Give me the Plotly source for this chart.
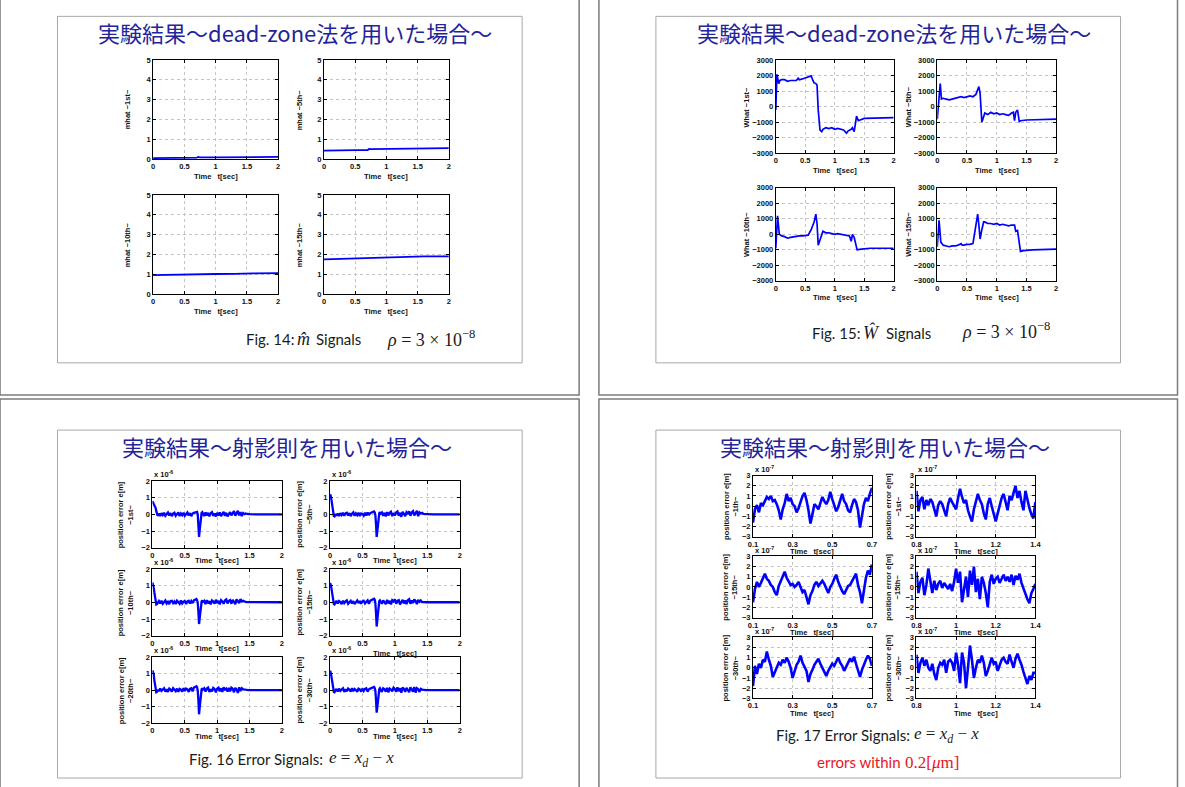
import plotly.graph_objects as go

# ---------------- DATA ----------------
# Slide 1 : mhat signals (dead-zone)
M_T = [0, 0.1, 0.3, 0.5, 0.7, 0.72, 0.75, 1.0, 1.3, 1.4, 1.6, 2.0]
M_1ST = [0.04, 0.04, 0.05, 0.05, 0.06, 0.10, 0.08, 0.08, 0.09, 0.10, 0.10, 0.10]
M_5TH = [0.42, 0.43, 0.44, 0.44, 0.45, 0.50, 0.49, 0.50, 0.52, 0.53, 0.54, 0.55]
M_10TH = [0.95, 0.96, 0.97, 0.97, 0.98, 1.00, 1.00, 1.01, 1.02, 1.03, 1.04, 1.05]
M_15TH = [1.75, 1.76, 1.77, 1.78, 1.80, 1.83, 1.84, 1.85, 1.86, 1.90, 1.90, 1.90]

# Slide 2 : What signals (dead-zone)
W1_T = [0, 0.01, 0.02, 0.03, 0.05, 0.07, 0.1, 0.15, 0.2, 0.25, 0.3, 0.35, 0.38, 0.4, 0.45,
        0.5, 0.55, 0.6, 0.63, 0.65, 0.68, 0.7, 0.72, 0.75, 0.78, 0.8, 0.85, 0.9, 0.95, 1.0,
        1.05, 1.1, 1.15, 1.2, 1.23, 1.28, 1.3, 1.33, 1.35, 1.37, 1.4, 1.45, 1.5, 2.0]
W1_V = [-200, 1000, 2100, 1900, 1500, 1700, 1750, 1750, 1650, 1700, 1700, 1700, 1850, 1750, 1800,
        1850, 1900, 2000, 1700, 1550, 1500, 1400, -200, -1500, -1600, -1450, -1350, -1400, -1350, -1450,
        -1400, -1450, -1500, -1700, -1550, -1450, -1350, -1600, -1100, -600, -900, -800, -750, -700]
W5_T = [0, 0.02, 0.05, 0.07, 0.1, 0.15, 0.2, 0.25, 0.3, 0.35, 0.4, 0.45, 0.5, 0.55, 0.6,
        0.65, 0.7, 0.72, 0.75, 0.78, 0.8, 0.85, 0.9, 0.95, 1.0, 1.05, 1.1, 1.15, 1.2, 1.25,
        1.28, 1.3, 1.32, 1.35, 1.38, 1.4, 1.5, 2.0]
W5_V = [-800, 300, 1500, 500, 550, 500, 450, 500, 550, 600, 650, 600, 650, 700, 650,
        800, 1300, 900, -1000, -700, -400, -500, -350, -450, -400, -500, -450, -500, -550, -400,
        -350, -900, -350, -200, -950, -900, -850, -800]
W10_T = [0, 0.03, 0.06, 0.1, 0.15, 0.2, 0.25, 0.3, 0.35, 0.4, 0.45, 0.5, 0.55, 0.6, 0.65,
         0.68, 0.7, 0.72, 0.75, 0.78, 0.8, 0.85, 0.9, 0.95, 1.0, 1.05, 1.1, 1.15, 1.2, 1.25,
         1.28, 1.3, 1.33, 1.38, 1.45, 1.6, 2.0]
W10_V = [-900, 1200, 0, -100, -150, -250, -200, -150, -150, -100, -100, -50, -50, 300, 800,
         1300, 700, -700, -300, 100, 200, 100, 100, 50, 0, 50, 0, 0, -50, -100,
         -450, 0, -200, -1000, -950, -900, -900]
W15_T = [0, 0.03, 0.06, 0.1, 0.15, 0.2, 0.25, 0.3, 0.35, 0.4, 0.42, 0.45, 0.5, 0.55, 0.6,
         0.63, 0.68, 0.7, 0.72, 0.75, 0.78, 0.8, 0.85, 0.9, 0.95, 1.0, 1.05, 1.1, 1.15, 1.2,
         1.25, 1.3, 1.32, 1.35, 1.4, 1.45, 1.6, 2.0]
W15_V = [-800, 900, -500, -700, -750, -800, -750, -750, -700, -600, -700, -700, -650, -650, -600,
         200, 1300, 600, -300, 300, 800, 800, 700, 700, 650, 700, 600, 650, 600, 550,
         600, 600, 200, 250, -1100, -1050, -1000, -950]

# Slide 3 : error signals (x 1e-6), projection rule
T3 = [0.00, 0.01, 0.02, 0.03, 0.04, 0.05, 0.06, 0.07, 0.08, 0.09,
      0.10, 0.12, 0.14, 0.16, 0.18, 0.20, 0.22, 0.24, 0.26, 0.28,
      0.30, 0.32, 0.34, 0.36, 0.38, 0.40, 0.42, 0.44, 0.46, 0.48,
      0.50, 0.52, 0.54, 0.56, 0.58, 0.60, 0.62, 0.64, 0.66, 0.68,
      0.69, 0.70, 0.71, 0.72, 0.73, 0.74, 0.75, 0.76, 0.77, 0.78,
      0.80, 0.82, 0.84, 0.86, 0.88, 0.90, 0.92, 0.94, 0.96, 0.98,
      1.00, 1.02, 1.04, 1.06, 1.08, 1.10, 1.12, 1.14, 1.16, 1.18,
      1.20, 1.22, 1.24, 1.26, 1.28, 1.30, 1.32, 1.34, 1.36, 1.38,
      1.40, 1.42, 1.44, 1.46, 1.48, 1.50, 1.60, 1.80, 1.90, 2.00]
E_1ST = [0.80, 0.72, 0.65, 0.55, 0.42, 0.38, 0.20, 0.05, -0.08, -0.02,
         0.06, -0.10, 0.08, -0.04, 0.10, -0.08, 0.04, 0.12, -0.06, 0.08,
         -0.10, 0.05, 0.10, -0.08, 0.02, 0.12, -0.10, 0.06, -0.04, 0.10,
         -0.08, 0.04, 0.12, -0.06, 0.08, -0.10, 0.05, 0.10, 0.14, 0.18,
         0.15, 0.00, -0.50, -1.35, -0.95, -0.40, -0.05, 0.10, 0.14, 0.06,
         -0.10, 0.12, -0.06, 0.10, -0.12, 0.08, 0.14, -0.08, 0.06, -0.12,
         0.10, -0.06, 0.12, -0.10, 0.08, 0.16, -0.08, 0.10, -0.12, 0.06,
         0.14, -0.06, 0.10, 0.20, -0.08, 0.12, 0.22, -0.06, 0.14, -0.10,
         0.08, 0.02, 0.06, 0.03, 0.02, 0.02, 0.01, 0.01, 0.01, 0.01]
E_5TH = [1.20, 1.15, 0.95, 0.65, 0.35, 0.10, -0.10, -0.12, -0.06, 0.02,
         -0.08, 0.06, -0.10, 0.08, -0.04, 0.10, -0.08, 0.06, 0.10, -0.06,
         0.08, -0.10, 0.04, 0.12, -0.08, 0.06, -0.04, 0.10, -0.10, 0.06,
         0.02, -0.08, 0.10, -0.06, 0.12, -0.04, 0.08, 0.12, 0.16, 0.18,
         0.12, -0.05, -0.60, -1.35, -1.00, -0.45, -0.08, 0.08, 0.14, 0.05,
         0.12, -0.08, 0.10, -0.12, 0.14, -0.06, 0.10, 0.16, -0.10, 0.08,
         -0.06, 0.12, 0.18, -0.08, 0.10, -0.14, 0.16, 0.04, -0.10, 0.14,
         0.06, 0.18, -0.08, 0.12, 0.20, -0.06, 0.14, 0.22, -0.10, 0.12,
         0.06, 0.10, 0.03, 0.04, 0.02, 0.02, 0.01, 0.01, 0.01, 0.01]
E_10TH = [1.20, 1.10, 0.90, 0.60, 0.30, 0.05, -0.12, -0.10, -0.04, 0.04,
          0.08, -0.06, 0.10, -0.08, 0.06, 0.12, -0.06, 0.04, -0.10, 0.08,
          0.10, -0.04, 0.06, -0.10, 0.10, 0.02, -0.08, 0.12, -0.06, 0.04,
          0.08, -0.10, 0.06, 0.10, -0.06, 0.08, -0.04, 0.12, 0.16, 0.20,
          0.14, -0.02, -0.55, -1.30, -0.95, -0.45, -0.10, 0.06, 0.12, 0.04,
          0.10, -0.10, 0.14, -0.06, 0.08, -0.12, 0.12, 0.06, -0.08, 0.16,
          -0.04, 0.10, -0.12, 0.14, 0.06, -0.08, 0.12, 0.18, -0.06, 0.10,
          0.14, -0.08, 0.16, 0.04, -0.10, 0.18, 0.10, -0.04, 0.20, 0.06,
          0.10, 0.04, 0.03, 0.02, 0.02, 0.01, 0.01, 0.01, 0.01, 0.01]
E_15TH = [1.15, 1.10, 0.92, 0.62, 0.32, 0.06, -0.10, -0.12, -0.05, 0.02,
          0.10, -0.06, 0.08, 0.02, -0.10, 0.10, -0.04, 0.06, 0.12, -0.08,
          0.04, 0.10, -0.06, 0.08, -0.10, 0.06, 0.12, -0.04, 0.08, -0.08,
          0.06, 0.10, -0.06, 0.04, 0.12, -0.08, 0.10, 0.14, 0.18, 0.22,
          0.16, -0.05, -0.65, -1.45, -1.05, -0.50, -0.10, 0.08, 0.12, 0.06,
          -0.08, 0.12, 0.04, -0.10, 0.16, -0.06, 0.10, -0.12, 0.14, 0.06,
          0.18, -0.08, 0.10, 0.14, -0.12, 0.08, 0.16, -0.06, 0.12, -0.10,
          0.14, 0.20, -0.08, 0.12, -0.04, 0.18, 0.08, -0.10, 0.16, 0.04,
          0.12, 0.02, 0.04, 0.02, 0.01, 0.01, 0.01, 0.01, 0.01, 0.01]
E_20TH = [1.20, 1.12, 0.95, 0.60, 0.30, 0.05, -0.12, -0.10, -0.05, 0.03,
          -0.06, 0.10, -0.04, 0.08, 0.12, -0.08, 0.06, -0.10, 0.10, 0.04,
          -0.08, 0.12, 0.02, -0.06, 0.10, -0.10, 0.08, 0.04, -0.08, 0.12,
          -0.04, 0.10, 0.06, -0.10, 0.08, 0.12, -0.06, 0.16, 0.20, 0.24,
          0.18, -0.02, -0.60, -1.45, -1.05, -0.50, -0.12, 0.06, 0.12, 0.04,
          0.12, -0.08, 0.10, 0.16, -0.10, 0.06, -0.06, 0.14, 0.08, -0.12,
          0.10, 0.16, -0.06, 0.12, -0.10, 0.18, 0.04, 0.10, -0.08, 0.14,
          -0.06, 0.16, 0.10, -0.12, 0.14, 0.04, -0.16, 0.18, -0.04, 0.12,
          0.06, 0.04, 0.02, 0.02, 0.01, 0.01, 0.01, 0.01, 0.01, 0.01]
E_30TH = [1.18, 1.10, 0.90, 0.62, 0.33, 0.08, -0.10, -0.12, -0.06, 0.02,
          0.08, -0.08, 0.10, -0.04, 0.06, 0.12, -0.10, 0.06, -0.06, 0.10,
          0.04, -0.08, 0.12, -0.06, 0.08, 0.02, -0.10, 0.10, 0.06, -0.08,
          0.10, -0.04, 0.08, 0.12, -0.08, 0.06, 0.10, 0.12, 0.18, 0.20,
          0.14, -0.04, -0.58, -1.35, -1.00, -0.48, -0.10, 0.06, 0.12, 0.04,
          -0.10, 0.12, 0.06, -0.08, 0.14, -0.12, 0.10, 0.04, -0.06, 0.16,
          0.08, -0.10, 0.18, -0.06, 0.12, -0.14, 0.16, 0.08, -0.10, 0.14,
          0.04, -0.12, 0.18, 0.06, -0.08, 0.20, -0.14, 0.12, 0.06, -0.10,
          0.08, 0.04, 0.02, 0.02, 0.01, 0.01, 0.01, 0.01, 0.01, 0.01]

# Slide 4 : zoomed error signals (x 1e-7)
T4L = [0.10, 0.11, 0.12, 0.13, 0.14, 0.15, 0.16, 0.17, 0.18, 0.19,
       0.20, 0.21, 0.22, 0.23, 0.24, 0.25, 0.26, 0.27, 0.28, 0.29,
       0.30, 0.31, 0.32, 0.33, 0.34, 0.35, 0.36, 0.37, 0.38, 0.39,
       0.40, 0.41, 0.42, 0.43, 0.44, 0.45, 0.46, 0.47, 0.48, 0.49,
       0.50, 0.51, 0.52, 0.53, 0.54, 0.55, 0.56, 0.57, 0.58, 0.59,
       0.60, 0.61, 0.62, 0.63, 0.64, 0.65, 0.66, 0.67, 0.68, 0.69,
       0.70]
T4R = [0.80, 0.81, 0.82, 0.83, 0.84, 0.85, 0.86, 0.87, 0.88, 0.89,
       0.90, 0.91, 0.92, 0.93, 0.94, 0.95, 0.96, 0.97, 0.98, 0.99,
       1.00, 1.01, 1.02, 1.03, 1.04, 1.05, 1.06, 1.07, 1.08, 1.09,
       1.10, 1.11, 1.12, 1.13, 1.14, 1.15, 1.16, 1.17, 1.18, 1.19,
       1.20, 1.21, 1.22, 1.23, 1.24, 1.25, 1.26, 1.27, 1.28, 1.29,
       1.30, 1.31, 1.32, 1.33, 1.34, 1.35, 1.36, 1.37, 1.38, 1.39,
       1.40]
P_1TH_L = [-1.6, -0.3, 0.1, -0.6, 0.3, 0.1, 0.5, 0.9, 0.7, 1.0,
           0.5, 0.6, 0.2, -0.4, -1.3, -0.3, 0.3, 1.2, 0.5, 0.8,
           0.2, 0.0, -0.6, -0.2, 0.4, 1.0, 1.3, 0.6, -0.4, -1.7,
           -0.8, 0.2, 0.0, -0.3, 0.3, 0.9, 0.5, 0.2, 0.6, 1.4,
           0.7, 0.2, -0.5, -0.1, 0.5, 1.2, 0.5, 0.2, -0.4, -0.6,
           0.1, 0.7, 0.4, -0.4, -2.1, -1.0, 0.2, 0.8, 0.5, 1.2,
           1.8]
P_15TH_L = [-1.5, -0.2, 0.5, 0.0, 0.4, 0.9, 1.3, 0.8, 0.6, 0.2,
            0.0, -0.5, -0.8, 0.1, 0.6, 1.0, 1.5, 0.9, 0.6, 0.2,
            0.3, 0.0, 0.2, 0.5, 0.0, -0.5, -0.3, -1.0, -1.7, -0.8,
            -0.4, 0.2, 0.5, 0.1, 0.3, 0.6, 0.3, -0.2, -0.6, 0.0,
            0.3, 0.8, 1.2, 0.5, 0.0, -0.4, -0.7, -0.2, 0.1, 0.2,
            0.6, 1.0, 1.3, 0.2, -0.5, -1.6, -0.3, 0.9, 1.6, 1.2,
            2.2]
P_30TH_L = [-1.8, 0.2, -0.6, 0.4, 0.0, 0.8, 0.6, 1.6, 0.8, 0.2,
            -0.9, -0.4, 0.1, 0.5, 0.3, 0.8, 0.5, 1.0, 0.6, 0.0,
            -1.0, -0.3, 0.3, 0.6, 1.2, 0.5, 0.0, -0.3, -1.4, -0.6,
            -0.2, 0.3, 0.6, 0.9, 0.4, 0.0, -0.5, -0.8, -0.3, 0.1,
            0.4, 0.2, 0.6, 1.0, 0.5, 0.2, -0.3, 0.1, 0.5, 0.9,
            0.6, 1.1, 0.4, -0.2, -0.9, -0.2, 0.4, 0.8, 1.2, 0.9,
            0.2]
P_1ST_R = [1.5, -0.5, 0.6, 0.9, -0.3, 0.6, 0.1, 0.7, 0.4, -0.2,
           -1.0, 0.1, 0.5, 0.2, -0.4, -1.0, 0.2, 0.8, 0.4, 0.1,
           -0.3, 0.8, 1.7, 0.9, 0.3, 0.6, -0.4, -1.0, -1.5, -0.3,
           0.5, 1.2, 0.6, 0.2, -0.7, -1.3, 0.2, 0.8, 0.0, -0.9,
           -1.5, -0.7, 0.2, 0.8, 1.2, 0.4, -0.4, 1.0, 0.6, 1.3,
           2.0, 0.8, 1.5, 0.4, -0.4, 1.5, 0.6, -0.2, -0.8, -1.2,
           0.4]
P_15TH_R = [1.5, -0.6, 0.5, 0.9, -0.8, 0.2, 1.8, 0.4, -0.6, 0.6,
            -0.3, 0.3, 0.6, -0.1, 0.4, 0.1, -0.2, 0.3, -0.4, 0.5,
            1.8, 0.4, 1.5, -1.5, 0.0, 1.0, -1.0, 1.6, 0.2, 2.0,
            -0.5, 0.8, -1.2, 1.0, 0.4, -0.6, -2.0, 0.5, 1.2, 0.3,
            0.8, 1.0, 0.4, 0.8, 1.2, 0.6, 1.0, 0.5, 1.2, 0.2,
            1.1, 0.7, 1.3, 0.4, -0.2, -0.8, -1.2, -1.6, -0.6, -0.2,
            0.3]
P_30TH_R = [1.3, -0.5, 0.5, 1.0, 0.2, 0.8, 0.0, -0.3, 0.4, -0.6,
            -1.2, 0.0, 0.5, 0.3, 0.8, -0.5, 0.6, 0.8, 0.5, -0.3,
            1.5, 0.3, -1.5, 1.5, 0.5, -2.0, 0.0, 2.2, 0.8, -1.0,
            0.0, 0.8, 0.5, 1.2, 0.5, -0.8, -0.3, 0.5, 1.0, 0.4,
            0.6, -0.3, 0.2, 0.8, 1.0, 0.6, 0.4, 1.3, 0.6, 0.0,
            0.9, 1.4, 0.8, 0.3, -0.4, -1.0, -1.6, -0.8, -1.2, -0.5,
            -0.5]

for s in (E_1ST, E_5TH, E_10TH, E_15TH, E_20TH, E_30TH):
    assert len(s) == len(T3), len(s)
for s in (P_1TH_L, P_15TH_L, P_30TH_L, P_1ST_R, P_15TH_R, P_30TH_R):
    assert len(s) == len(T4L), len(s)
assert len(W1_T) == len(W1_V) and len(W5_T) == len(W5_V)
assert len(W10_T) == len(W10_V) and len(W15_T) == len(W15_V)

# ---------------- FIGURE ----------------
W, H = 1185, 787
def fx(v): return v / W
def fy(v): return 1 - v / H

fig = go.Figure()
axes = {}
annotations = []
shapes = []
BLUE = '#0000ff'
INK = '#111111'
SANS = 'Liberation Sans'
TICKFONT = dict(family=SANS, size=7.5, color=INK, weight='bold')
count = [0]

def panel(xd, yd, xr, yr, xpx, ypx, xtv, xtt, ytv, ytt, lw):
    count[0] += 1
    i = count[0]
    s = '' if i == 1 else str(i)
    fig.add_trace(go.Scatter(x=xd, y=yd, mode='lines', line=dict(color=BLUE, width=lw),
                             xaxis='x' + s, yaxis='y' + s, showlegend=False, hoverinfo='skip'))
    common = dict(showline=True, linecolor='black', linewidth=1, mirror='ticks', ticks='inside',
                  ticklen=3, tickcolor='black', showgrid=True, gridcolor='#c4c4c4', gridwidth=1,
                  griddash='dot', zeroline=False, tickfont=TICKFONT, fixedrange=True)
    axes['xaxis' + s] = dict(common, domain=[fx(xpx[0]), fx(xpx[1])], range=xr,
                             tickvals=xtv, ticktext=xtt, anchor='y' + s)
    axes['yaxis' + s] = dict(common, domain=[fy(ypx[1]), fy(ypx[0])], range=yr,
                             tickvals=ytv, ticktext=ytt, anchor='x' + s)

def text(x, y, s, size=7.5, family=SANS, color=INK, weight='bold', xanchor='center', angle=0):
    annotations.append(dict(x=fx(x), y=fy(y), xref='paper', yref='paper', text=s, showarrow=False,
                            xanchor=xanchor, yanchor='middle', textangle=angle,
                            font=dict(family=family, size=size, color=color, weight=weight)))

def rect(x0, y0, x1, y1, color, width):
    shapes.append(dict(type='rect', xref='paper', yref='paper', x0=fx(x0), x1=fx(x1),
                       y0=fy(y1), y1=fy(y0), line=dict(color=color, width=width),
                       fillcolor='rgba(0,0,0,0)', layer='below'))

NB = '\u00a0'
TLAB = 'Time' + NB * 3 + 't[sec]'

# slide frames
for (a, b, c, d) in [(-5, -5, 579.5, 395.5), (599.5, -5, 1183.5, 395.5),
                     (-5, 399.5, 579.5, 795), (599.5, 399.5, 1183.5, 795)]:
    rect(a, b, c, d, '#7c7c7c', 1.5)
for (a, b, c, d) in [(53, 12.5, 522, 363), (657, 12.5, 1126, 363),
                     (53, 431, 522, 783), (657, 431, 1126, 783)]:
    rect(a, b, c, d, '#a8a8a8', 1)

TITLE_FONT = 'Noto Sans CJK JP'
NAVY = '#23239a'
text(92, 28, '実験結果〜dead-zone法を用いた場合〜', size=22, family=TITLE_FONT, color=NAVY, weight='normal', xanchor='left')
text(696, 28, '実験結果〜dead-zone法を用いた場合〜', size=22, family=TITLE_FONT, color=NAVY, weight='normal', xanchor='left')
text(116, 447, '実験結果〜射影則を用いた場合〜', size=22, family=TITLE_FONT, color=NAVY, weight='normal', xanchor='left')
text(720, 447, '実験結果〜射影則を用いた場合〜', size=22, family=TITLE_FONT, color=NAVY, weight='normal', xanchor='left')

X02 = [0, 0.5, 1, 1.5, 2]
X02T = ['0', '0.5', '1', '1.5', '2']

# ---- slide 1 ----
cols = [(149.5, 275.7), (322, 448)]
rows = [(56.7, 156.7), (193.3, 293.3)]
series1 = [(M_1ST, 'mhat ~1st~'), (M_5TH, 'mhat ~5th~'), (M_10TH, 'mhat ~10th~'), (M_15TH, 'mhat ~15th~')]
ylab_x = [124, 297.6]
for k, (ys, lab) in enumerate(series1):
    r, c = divmod(k, 2)
    panel(M_T, ys, [0, 2], [0, 5], cols[c], rows[r], X02, X02T,
          [0, 1, 2, 3, 4, 5], ['0', '1', '2', '3', '4', '5'], 1.8)
    text(sum(cols[c]) / 2, rows[r][1] + 17.5, TLAB)
    text(ylab_x[c], sum(rows[r]) / 2, lab, angle=-90)

# ---- slide 2 ----
cols = [(778, 897), (941, 1061)]
rows = [(57, 151), (186, 280)]
series2 = [(W1_T, W1_V, 'What ~1st~'), (W5_T, W5_V, 'What ~5th~'),
           (W10_T, W10_V, 'What ~10th~'), (W15_T, W15_V, 'What ~15th~')]
ylab_x = [748.7, 912]
for k, (xs, ys, lab) in enumerate(series2):
    r, c = divmod(k, 2)
    panel(xs, ys, [0, 2], [-3000, 3000], cols[c], rows[r], X02, X02T,
          [-3000, -2000, -1000, 0, 1000, 2000, 3000],
          ['\u22123000', '\u22122000', '\u22121000', '0', '1000', '2000', '3000'], 1.7)
    text(sum(cols[c]) / 2, rows[r][1] + 17, TLAB)
    text(ylab_x[c], sum(rows[r]) / 2, lab, angle=-90)

# ---- slide 3 ----
cols = [(148.8, 279.5), (328, 459)]
rows = [(482.7, 550), (571.7, 639), (660.7, 727.7)]
series3 = [(E_1ST, '~1st~'), (E_5TH, '~5th~'), (E_10TH, '~10th~'),
           (E_15TH, '~15th~'), (E_20TH, '~20th~'), (E_30TH, '~30th~')]
ylab_x = [122, 302]
for k, (ys, lab) in enumerate(series3):
    r, c = divmod(k, 2)
    panel(T3, ys, [0, 2], [-2, 2], cols[c], rows[r], X02, X02T,
          [-2, -1, 0, 1, 2], ['\u22122', '\u22121', '0', '1', '2'], 2.3)
    dy = 12.8 if not (r == 1 and c == 1) else 18
    text(sum(cols[c]) / 2, rows[r][1] + dy, TLAB)
    text(ylab_x[c], sum(rows[r]) / 2, 'position error e[m]<br>' + lab, angle=-90)
    text(cols[c][0], rows[r][0] - 7, 'x 10<sup>-6</sup>', xanchor='left')

# ---- slide 4 ----
cols = [(755, 875), (920, 1040)]
rows = [(477, 539), (558.7, 620.7), (640.7, 702.3)]
series4 = [(T4L, P_1TH_L, '~1th~'), (T4R, P_1ST_R, '~1st~'),
           (T4L, P_15TH_L, '~15th~'), (T4R, P_15TH_R, '~15th~'),
           (T4L, P_30TH_L, '~30th~'), (T4R, P_30TH_R, '~30th~')]
ylab_x = [732.5, 897]
for k, (xs, ys, lab) in enumerate(series4):
    r, c = divmod(k, 2)
    if c == 0:
        xr, xtv, xtt = [0.1, 0.7], [0.1, 0.3, 0.5, 0.7], ['0.1', '0.3', '0.5', '0.7']
    else:
        xr, xtv, xtt = [0.8, 1.4], [0.8, 1.0, 1.2, 1.4], ['0.8', '1', '1.2', '1.4']
    panel(xs, ys, xr, [-3, 3], cols[c], rows[r], xtv, xtt,
          [-3, -2, -1, 0, 1, 2, 3], ['\u22123', '\u22122', '\u22121', '0', '1', '2', '3'], 2.6)
    text(sum(cols[c]) / 2, rows[r][1] + 15, TLAB)
    text(ylab_x[c], sum(rows[r]) / 2, 'position error e[m]<br>' + lab, angle=-90)
    text(cols[c][0], rows[r][0] - 6.5, 'x 10<sup>-7</sup>', xanchor='left')

# ---- captions ----
CAP = 'Lato'
SERIF = 'Liberation Serif'
BLACK = '#1a1a1a'
text(241, 339, 'Fig. 14:', size=15, family=CAP, color=BLACK, weight='normal', xanchor='left')
text(293, 339, '<i>m\u0302</i>', size=18, family=SERIF, color=BLACK, weight='normal', xanchor='left')
text(312, 339, 'Signals', size=15, family=CAP, color=BLACK, weight='normal', xanchor='left')
text(384, 338, '<i>\u03c1</i> = 3 \u00d7 10<sup>\u22128</sup>', size=18, family=SERIF, color=BLACK, weight='normal', xanchor='left')

text(813, 333, 'Fig. 15:', size=15, family=CAP, color=BLACK, weight='normal', xanchor='left')
text(864, 332, '<i>\u0174</i>', size=18, family=SERIF, color=BLACK, weight='normal', xanchor='left')
text(887, 333, 'Signals', size=15, family=CAP, color=BLACK, weight='normal', xanchor='left')
text(964, 330, '<i>\u03c1</i> = 3 \u00d7 10<sup>\u22128</sup>', size=18, family=SERIF, color=BLACK, weight='normal', xanchor='left')

text(184, 764, 'Fig. 16 Error Signals:', size=15, family=CAP, color=BLACK, weight='normal', xanchor='left')
text(325, 764, '<i>e</i> = <i>x</i><sub><i>d</i></sub> \u2212 <i>x</i>', size=17, family=SERIF, color=BLACK, weight='normal', xanchor='left')

text(776, 739, 'Fig. 17 Error Signals:', size=15, family=CAP, color=BLACK, weight='normal', xanchor='left')
text(915, 739, '<i>e</i> = <i>x</i><sub><i>d</i></sub> \u2212 <i>x</i>', size=17, family=SERIF, color=BLACK, weight='normal', xanchor='left')

RED = '#e8141e'
text(818, 767, 'errors within', size=15, family=CAP, color=RED, weight='normal', xanchor='left')
text(906, 767, '0.2[<i>\u03bc</i>m]', size=17, family=SERIF, color=RED, weight='normal', xanchor='left')

fig.update_layout(
    width=W, height=H, margin=dict(l=0, r=0, t=0, b=0),
    paper_bgcolor='white', plot_bgcolor='white',
    font=dict(family=SANS, color=INK),
    showlegend=False, annotations=annotations, shapes=shapes, **axes)

fig.write_html('out.html', config=dict(displayModeBar=False, staticPlot=True))
